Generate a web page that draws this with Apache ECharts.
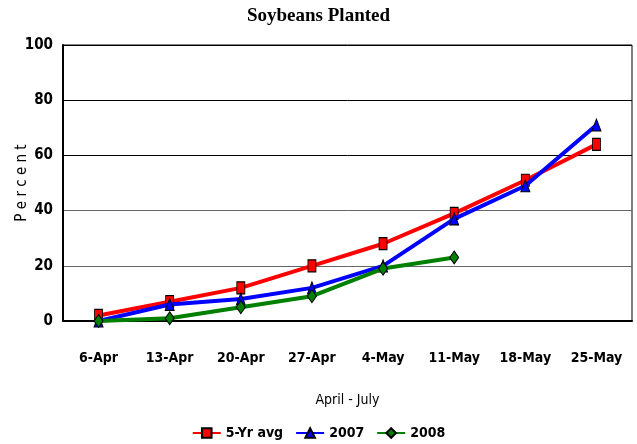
<!DOCTYPE html>
<html><head><meta charset="utf-8">
<script src="https://cdn.jsdelivr.net/npm/echarts@6/dist/echarts.min.js"></script>
<style>html,body{margin:0;padding:0;background:#fff}#c{width:637px;height:444px}</style>
</head><body><div id="c"></div>
<script>
const categories = ['6-Apr','13-Apr','20-Apr','27-Apr','4-May','11-May','18-May','25-May'];
const avg5yr = [2, 7, 12, 20, 28, 39, 51, 64];
const y2007 = [0, 6, 8, 12, 20, 37, 49, 71];
const y2008 = [0, 1, 5, 9, 19, 23, null, null];
const yTicks = [0, 20, 40, 60, 80, 100];

const narrow = 'DejaVu Sans Condensed, Liberation Sans Narrow, Liberation Sans, Arial';
const chart = echarts.init(document.getElementById('c'), null, {renderer:'canvas'});
chart.setOption({
  animation:false,
  title:{text:'Soybeans Planted', left:'center', top:2,
    textStyle:{fontFamily:'Liberation Serif, Times New Roman, serif', fontWeight:'bold', fontSize:19, color:'#000'}},
  legend:{top:421, left:'center', itemWidth:28, itemHeight:12, itemGap:12,
    textStyle:{fontFamily:narrow, fontWeight:'bold', fontSize:14, color:'#000'},
    data:['5-Yr avg','2007','2008']},
  grid:{left:63, right:5, top:45, bottom:123, show:true, borderColor:'#000', borderWidth:1,
    containLabel:false, outerBoundsMode:'none'},
  xAxis:{type:'category', data:categories, boundaryGap:true,
    name:'April - July', nameLocation:'middle', nameGap:72, nameMoveOverlap:false,
    nameTextStyle:{fontFamily:narrow, fontSize:14, color:'#000'},
    axisLine:{lineStyle:{color:'#000', width:2}}, axisTick:{show:false},
    axisLabel:{margin:30, fontFamily:narrow, fontWeight:'bold', fontSize:14, color:'#000'}},
  yAxis:{type:'value', min:yTicks[0], max:yTicks[yTicks.length-1], interval:20,
    name:'P e r c e n t', nameLocation:'middle', nameGap:33, nameMoveOverlap:false,
    nameTextStyle:{fontFamily:narrow, fontSize:15, color:'#000'},
    axisLine:{show:true, lineStyle:{color:'#000', width:2}}, axisTick:{show:false},
    splitLine:{show:true, lineStyle:{color:['#000','#666','#666','#000','#000','#000'], width:1}},
    axisLabel:{margin:10, fontFamily:narrow, fontWeight:'bold', fontSize:15, color:'#000'}},
  series:[
    {name:'5-Yr avg', type:'line', data:avg5yr, color:'#ff0000', lineStyle:{width:4, color:'#ff0000'},
     symbol:'rect', symbolSize:[8,12], itemStyle:{color:'#ff0000', borderColor:'#000', borderWidth:1}, z:3},
    {name:'2007', type:'line', data:y2007, color:'#0000ff', lineStyle:{width:4, color:'#0000ff'},
     symbol:'triangle', symbolSize:[9,12], itemStyle:{color:'#0000ff', borderColor:'#000', borderWidth:1}, z:4},
    {name:'2008', type:'line', data:y2008, color:'#008000', lineStyle:{width:4, color:'#008000'},
     symbol:'diamond', symbolSize:[9,13], itemStyle:{color:'#008000', borderColor:'#000', borderWidth:1}, z:5}
  ]
});
</script></body></html>
